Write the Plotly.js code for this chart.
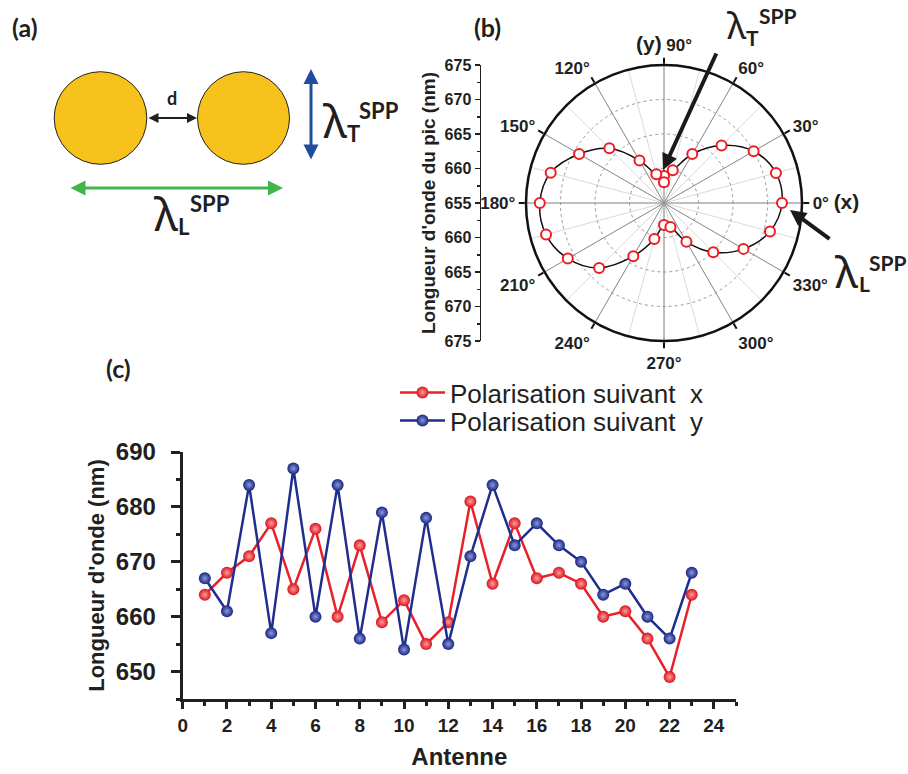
<!DOCTYPE html>
<html><head><meta charset="utf-8">
<script src="https://cdn.plot.ly/plotly-3.0.1.min.js"></script>
<style>html,body{margin:0;padding:0;background:#fff}#chart{width:908px;height:774px}</style>
</head><body><div id="chart"></div>
<script>
// ---------- panel (c) data ----------
const antenne = [1,2,3,4,5,6,7,8,9,10,11,12,13,14,15,16,17,18,19,20,21,22,23];
const lambdaPolX = [664,668,671,677,665,676,660,673,659,663,655,659,681,666,677,667,668,666,660,661,656,649,664];
const lambdaPolY = [667,661,684,657,687,660,684,656,679,654,678,655,671,684,673,677,673,670,664,666,660,656,668];
const seriesNames = ['Polarisation suivant\u00a0\u00a0x', 'Polarisation suivant\u00a0\u00a0y'];

// ---------- panel (b) data ----------
const polarAngles = [0,15,30,45,60,75,90,105,120,135,150,165,180,195,210,225,240,255,270,285,300,315,330,345];
const polarPeak   = [672.1,671.8,670.0,666.8,663.2,659.9,658.9,659.3,662.1,666.2,669.2,672.0,673.0,672.7,671.1,668.3,663.9,660.4,658.2,658.6,661.5,665.1,668.3,670.9];
const extraAngles = [90];
const extraPeak   = [658.0];
const angTickVals = [0,30,60,90,120,150,180,210,240,270,300,330];
const angTickText = ['0° <span style="font-size:21px">(x)</span>','30°','60°','<span style="font-size:21px">(y)</span> 90°','120°','150°','180°','210°','240°','270°','300°','330°'];
const radialTickVals = [-20,-15,-10,-5,0,5,10,15,20];
const radialTickText = ['675','670','665','660','655','660','665','670','675'];

// ---------- helpers ----------
const W = 908, H = 774;
const px = x => x / W, py = y => 1 - y / H;
const INK = '#231f20';
const arialB = (s) => ({family:'Liberation Sans, Arial, sans-serif', size:s, weight:'bold', color:INK});
const latoB = (s) => ({family:'Lato, Noto Sans, sans-serif', size:s, weight:'bold', color:INK});

const traces = [
  {type:'scatterpolar', subplot:'polar', r:[], theta:[], showlegend:false, hoverinfo:'skip'},
  {type:'scatterpolar', subplot:'polar2', mode:'lines',
   r: polarPeak.concat([polarPeak[0]]), theta: polarAngles.concat([polarAngles[0]]),
   line:{color:'#111', width:1.5, shape:'spline', smoothing:1}, showlegend:false, hoverinfo:'skip'},
  {type:'scatterpolar', subplot:'polar2', mode:'markers',
   r: polarPeak.concat(extraPeak), theta: polarAngles.concat(extraAngles),
   marker:{symbol:'circle', size:10, color:'white', line:{color:'#ee1c24', width:2}}, showlegend:false},
  {type:'scatter', x:[], y:[], xaxis:'x2', yaxis:'y2', showlegend:false, hoverinfo:'skip'},
  {type:'scatter', mode:'lines+markers', name:seriesNames[0], x:antenne, y:lambdaPolX, legend:'legend',
   line:{color:'#e8202a', width:2.5},
   marker:{size:12, color:'#d9141c', gradient:{type:'radial', color:'#ff9d9d'}, line:{width:0}}},
  {type:'scatter', mode:'lines+markers', name:seriesNames[1], x:antenne, y:lambdaPolY, legend:'legend2',
   line:{color:'#1f2e8e', width:2.5},
   marker:{size:12, color:'#18257e', gradient:{type:'radial', color:'#8a98e0'}, line:{width:0}}}
];

function arrow(x1,y1,x2,y2,color,width,both,size){
  return {x:px(x2), y:py(y2), xref:'paper', yref:'paper', ax:x1-x2, ay:y1-y2, axref:'pixel', ayref:'pixel',
    text:'', showarrow:true, arrowcolor:color, arrowwidth:width, arrowhead:2, startarrowhead:2,
    arrowside: both ? 'end+start' : 'end', arrowsize:size, startarrowsize:size, standoff:0, startstandoff:0};
}
function label(text, x, y, font, xa, ya){
  return {text:text, x:px(x), y:py(y), xref:'paper', yref:'paper', showarrow:false, font:font,
    xanchor:xa||'center', yanchor:ya||'middle'};
}
const greek = s => ({family:'Noto Sans, DejaVu Sans, sans-serif', size:s, color:INK});

const annotations = [
  label('(a)', 25, 27, latoB(25)),
  label('(b)', 487, 27, latoB(25)),
  label('(c)', 119, 368, latoB(25)),
  label('d', 172, 98, latoB(18)),
  arrow(147,118,197,118,INK,2,true,1),
  arrow(311,161,311,69,'#1f4e9f',3,true,1),
  arrow(69,188,283,188,'#41b44a',3,true,1),
  // lambda_T (a)
  label('λ', 335, 120, greek(46)),
  label('T', 353, 133, latoB(22)),
  label('SPP', 379, 110, latoB(22)),
  // lambda_L (a)
  label('λ', 166, 213, greek(46)),
  label('L', 184, 226, latoB(22)),
  label('SPP', 210, 203, latoB(22)),
  // (b) arrows and labels
  arrow(717,52,663,170,'#1a1a1a',4,false,0.8),
  arrow(831,240,790,210,'#1a1a1a',4,false,0.8),
  label('λ', 737, 24, greek(37)),
  label('T', 752, 37, latoB(21)),
  label('SPP', 778, 15, latoB(21)),
  label('λ', 846, 271, greek(44)),
  label('L', 864, 283, latoB(21)),
  label('SPP', 888, 262, latoB(21))
];

const shapes = [
  {type:'circle', xref:'paper', yref:'paper', x0:px(54.2), x1:px(146.8), y0:py(164.3), y1:py(71.7),
   fillcolor:'#f8c21c', line:{color:'#222', width:1}},
  {type:'circle', xref:'paper', yref:'paper', x0:px(197.5), x1:px(289.5), y0:py(164.3), y1:py(71.7),
   fillcolor:'#f8c21c', line:{color:'#222', width:1}}
];

const polarDomain = {x:[px(526), px(802)], y:[py(341), py(65)]};
const legendFont = {family:'Liberation Sans, Arial, sans-serif', size:26, color:INK};

const layout = {
  width:W, height:H, margin:{l:0,r:0,t:0,b:0}, paper_bgcolor:'white', plot_bgcolor:'rgba(0,0,0,0)',
  showlegend:true,
  legend:{x:px(395), y:py(369), xanchor:'left', yanchor:'top', bgcolor:'rgba(0,0,0,0)',
    font:legendFont, itemwidth:45, tracegroupgap:0},
  legend2:{x:px(395), y:py(397), xanchor:'left', yanchor:'top', bgcolor:'rgba(0,0,0,0)',
    font:legendFont, itemwidth:45, tracegroupgap:0},
  polar:{domain:polarDomain, bgcolor:'white',
    angularaxis:{rotation:0, direction:'counterclockwise', tickmode:'linear', tick0:0, dtick:15,
      showgrid:true, gridcolor:'#dadada', gridwidth:1, showline:false, ticks:'', showticklabels:false},
    radialaxis:{range:[655,675], tickmode:'linear', tick0:655, dtick:5, showgrid:true, gridcolor:'#9a9a9a',
      griddash:'dot', gridwidth:1, showline:false, ticks:'', showticklabels:false}},
  polar2:{domain:polarDomain, bgcolor:'rgba(0,0,0,0)',
    angularaxis:{rotation:0, direction:'counterclockwise', tickmode:'array', tickvals:angTickVals, ticktext:angTickText,
      showgrid:true, gridcolor:'#8e8e8e', gridwidth:1, showline:true, linecolor:'#111', linewidth:2.5,
      ticks:'outside', ticklen:6, tickwidth:2, tickcolor:'#111', tickfont:arialB(17)},
    radialaxis:{range:[655,675], showgrid:false, showline:false, ticks:'', showticklabels:false}},
  xaxis:{domain:[px(182.7), px(736)], range:[0,25], anchor:'y', tickmode:'linear', tick0:0, dtick:2,
    ticks:'outside', ticklen:7, tickwidth:3, tickcolor:INK, showline:true, linewidth:3, linecolor:INK,
    showgrid:false, zeroline:false, tickfont:arialB(19),
    minor:{tickmode:'linear', tick0:0, dtick:1, ticks:'outside', ticklen:4, tickwidth:3, tickcolor:INK, showgrid:false},
    title:{text:'Antenne', font:arialB(24), standoff:14}},
  yaxis:{domain:[py(699), py(452)], range:[645,690], anchor:'x', tickmode:'linear', tick0:650, dtick:10,
    ticks:'outside', ticklen:9, tickwidth:3, tickcolor:INK, showline:true, linewidth:3, linecolor:INK,
    showgrid:false, zeroline:false, tickfont:arialB(24), ticklabelstandoff:10,
    minor:{tickmode:'linear', tick0:645, dtick:5, ticks:'outside', ticklen:4, tickwidth:3, tickcolor:INK, showgrid:false},
    title:{text:"Longueur d'onde (nm)", font:arialB(22), standoff:6}},
  xaxis2:{domain:[px(481), px(500)], anchor:'y2', range:[0,1], visible:false},
  yaxis2:{domain:[py(341), py(65)], anchor:'x2', side:'left', range:[-20,20], tickmode:'array',
    tickvals:radialTickVals, ticktext:radialTickText, ticks:'outside', ticklen:5, tickwidth:1.5, tickcolor:INK,
    showline:true, linewidth:1.5, linecolor:INK, showgrid:false, zeroline:false, tickfont:arialB(16),
    minor:{tickmode:'linear', tick0:0, dtick:2.5, ticks:'outside', ticklen:3, tickwidth:1.5, tickcolor:INK, showgrid:false},
    title:{text:"Longueur d'onde du pic (nm)", font:arialB(19), standoff:4}},
  annotations:annotations,
  shapes:shapes
};

Plotly.newPlot('chart', traces, layout, {staticPlot:true});
</script>
</body></html>
